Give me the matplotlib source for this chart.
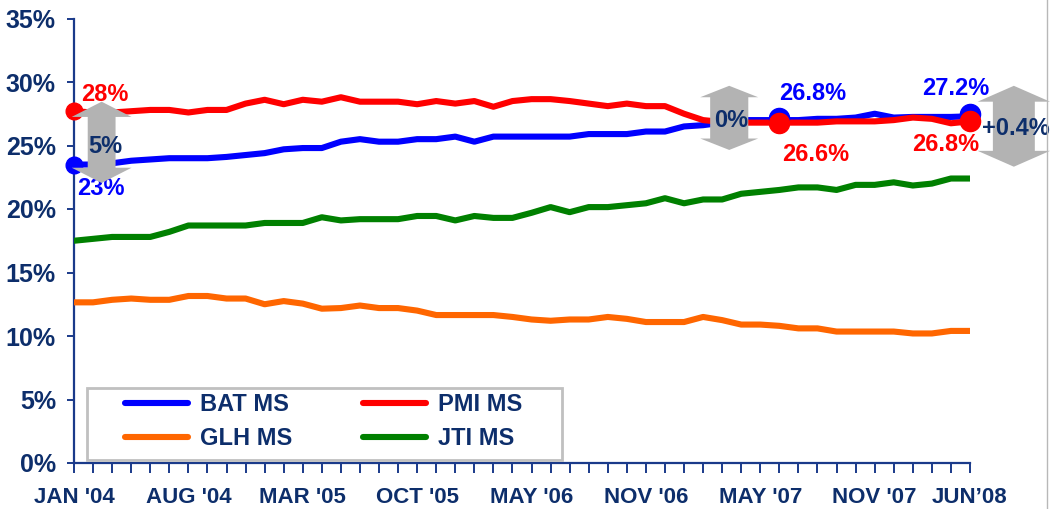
import matplotlib
matplotlib.use('Agg')
import matplotlib.pyplot as plt
from matplotlib.patches import Polygon, Rectangle
from matplotlib.lines import Line2D

plt.rcParams['font.family'] = ['Liberation Sans', 'DejaVu Sans']
plt.rcParams['font.weight'] = 'bold'

NAVY = '#0d2e6b'
BLUE = '#0000ff'
RED = '#ff0000'
ORANGE = '#ff6600'
GREEN = '#008000'
ARROW_GREY = '#b3b3b3'

# market share, monthly points (48)
bat_ms = [23.5, 23.5, 23.6, 23.8, 23.9, 24.0, 24.0, 24.0, 24.1, 24.25, 24.4, 24.7,
          24.8, 24.8, 25.3, 25.5, 25.3, 25.3, 25.5, 25.5, 25.7, 25.3, 25.7, 25.7,
          25.7, 25.7, 25.7, 25.9, 25.9, 25.9, 26.1, 26.1, 26.5, 26.6, 26.8, 27.0,
          27.0, 27.0, 27.0, 27.1, 27.1, 27.2, 27.5, 27.2, 27.25, 27.25, 27.25, 27.3]
pmi_ms = [27.7, 27.6, 27.6, 27.7, 27.8, 27.8, 27.6, 27.8, 27.8, 28.3, 28.6, 28.25,
          28.6, 28.45, 28.8, 28.45, 28.45, 28.45, 28.25, 28.5, 28.3, 28.5, 28.05, 28.5,
          28.65, 28.65, 28.5, 28.3, 28.1, 28.3, 28.1, 28.1, 27.5, 27.0, 26.85, 26.8,
          26.8, 26.8, 26.8, 26.8, 26.9, 26.9, 26.9, 27.0, 27.2, 27.1, 26.75, 26.9]
glh_ms = [12.65, 12.65, 12.85, 12.95, 12.85, 12.85, 13.15, 13.15, 12.95, 12.95, 12.5, 12.75,
          12.55, 12.15, 12.2, 12.4, 12.2, 12.2, 12.0, 11.65, 11.65, 11.65, 11.65, 11.5,
          11.3, 11.2, 11.3, 11.3, 11.5, 11.35, 11.1, 11.1, 11.1, 11.5, 11.25, 10.9,
          10.9, 10.8, 10.6, 10.6, 10.35, 10.35, 10.35, 10.35, 10.2, 10.2, 10.4, 10.4]
jti_ms = [17.5, 17.65, 17.8, 17.8, 17.8, 18.2, 18.7, 18.7, 18.7, 18.7, 18.9, 18.9,
          18.9, 19.35, 19.1, 19.2, 19.2, 19.2, 19.45, 19.45, 19.1, 19.45, 19.3, 19.3,
          19.7, 20.15, 19.75, 20.15, 20.15, 20.3, 20.45, 20.85, 20.45, 20.75, 20.75, 21.2,
          21.35, 21.5, 21.7, 21.7, 21.5, 21.9, 21.9, 22.1, 21.85, 22.0, 22.4, 22.4]

label_pos = [0, 6, 12, 18, 24, 30, 36, 42, 47]
label_txt = ["JAN '04", "AUG '04", "MAR '05", "OCT '05", "MAY '06",
             "NOV '06", "MAY '07", "NOV '07", "JUN\u201908"]

# highlighted points and their captions
mark_idx = [0, 37, 47]
bat_caps = ['23%', '26.8%', '27.2%']
pmi_caps = ['28%', '26.6%', '26.8%']
gap_caps = ['5%', '0%', '+0.4%']

x = list(range(len(bat_ms)))

fig = plt.figure(figsize=(10.5, 5.09), dpi=100)
ax = fig.add_axes([74 / 1050, 46 / 509, 896 / 1050, 444.5 / 509])

lw = 4.4
l_glh, = ax.plot(x, glh_ms, color=ORANGE, lw=lw, solid_capstyle='round', zorder=3)
l_jti, = ax.plot(x, jti_ms, color=GREEN, lw=lw, solid_capstyle='round', zorder=3)
l_bat, = ax.plot(x, bat_ms, color=BLUE, lw=lw, solid_capstyle='round', zorder=4)
l_pmi, = ax.plot(x, pmi_ms, color=RED, lw=lw, solid_capstyle='round', zorder=5)

ax.set_xlim(0, 47)
ax.set_ylim(0, 35)


def double_arrow(xc, y_lo, y_hi, head_w, shaft_w, head_l):
    pts = [(xc, y_hi), (xc + head_w, y_hi - head_l), (xc + shaft_w, y_hi - head_l),
           (xc + shaft_w, y_lo + head_l), (xc + head_w, y_lo + head_l), (xc, y_lo),
           (xc - head_w, y_lo + head_l), (xc - shaft_w, y_lo + head_l),
           (xc - shaft_w, y_hi - head_l), (xc - head_w, y_hi - head_l)]
    p = Polygon(pts, closed=True, facecolor=ARROW_GREY, edgecolor='none',
                zorder=7, clip_on=False)
    ax.add_patch(p)


# markers
for i in mark_idx:
    ms = 12 if i == 0 else 14.5
    ax.plot(i, bat_ms[i] + (0.2 if i else 0), 'o', color=BLUE, ms=ms, zorder=6, clip_on=False)
    ax.plot(i, pmi_ms[i], 'o', color=RED, ms=ms, zorder=6, clip_on=False)

# captions
fs = 17
ax.text(1.63, 28.98, pmi_caps[0], color=RED, fontsize=fs, ha='center', va='center', zorder=6)
ax.text(1.42, 21.65, bat_caps[0], color=BLUE, fontsize=fs, ha='center', va='center', zorder=6)
ax.text(38.77, 29.13, bat_caps[1], color=BLUE, fontsize=fs, ha='center', va='center', zorder=8)
ax.text(38.93, 24.33, pmi_caps[1], color=RED, fontsize=fs, ha='center', va='center', zorder=8)
ax.text(46.27, 29.45, bat_caps[2], color=BLUE, fontsize=fs, ha='center', va='center', zorder=8)
ax.text(45.75, 25.04, pmi_caps[2], color=RED, fontsize=fs, ha='center', va='center', zorder=6)

# gap arrows
double_arrow(1.45, 22.05, 28.45, 1.57, 0.73, 1.2)
double_arrow(34.37, 24.65, 29.7, 1.52, 1.0, 0.9)
double_arrow(49.3, 23.33, 29.7, 1.9, 1.1, 1.25)
ax.text(1.63, 24.96, gap_caps[0], color=NAVY, fontsize=fs, ha='center', va='center', zorder=9)
ax.text(34.47, 27.0, gap_caps[1], color=NAVY, fontsize=fs, ha='center', va='center', zorder=9)
ax.text(49.42, 26.3, gap_caps[2], color=NAVY, fontsize=fs, ha='center', va='center',
        zorder=9, clip_on=False)

# axes styling
for s in ['top', 'right']:
    ax.spines[s].set_visible(False)
for s in ['left', 'bottom']:
    ax.spines[s].set_color('#1a3a8a')
    ax.spines[s].set_linewidth(1.6)

ax.set_yticks(range(0, 36, 5))
ax.set_yticklabels([f'{v}%' for v in range(0, 36, 5)])
ax.set_xticks(x)
ax.set_xticklabels([label_txt[label_pos.index(i)] if i in label_pos else '' for i in x])
ax.tick_params(axis='y', colors='#1a3a8a', length=5, width=1.4, labelsize=18,
               labelcolor=NAVY, pad=8)
ax.tick_params(axis='x', colors='#1a3a8a', length=7, width=1.4, labelsize=16,
               labelcolor=NAVY, pad=10, direction='out')

# legend box drawn separately, entries fill column by column
ax.add_patch(Rectangle((0.0145, 0.0067), 0.53, 0.162, transform=ax.transAxes,
                       facecolor='white', edgecolor='#c0c0c0', lw=2, zorder=10))
leg = ax.legend(handles=[l_bat, l_glh, l_pmi, l_jti],
                labels=['BAT MS', 'GLH MS', 'PMI MS', 'JTI MS'],
                ncol=2, loc='upper left', bbox_to_anchor=(0.0569, 0.158),
                borderaxespad=0, borderpad=0, frameon=False, fontsize=17,
                handlelength=2.67, handletextpad=0.5, labelspacing=0.48,
                columnspacing=3.0)
leg.set_zorder(11)
for t in leg.get_texts():
    t.set_color(NAVY)

fig.add_artist(Line2D([1047 / 1050, 1047 / 1050], [0, 1], color='#b8b8b8', lw=1))

fig.savefig('out.png', dpi=100)
